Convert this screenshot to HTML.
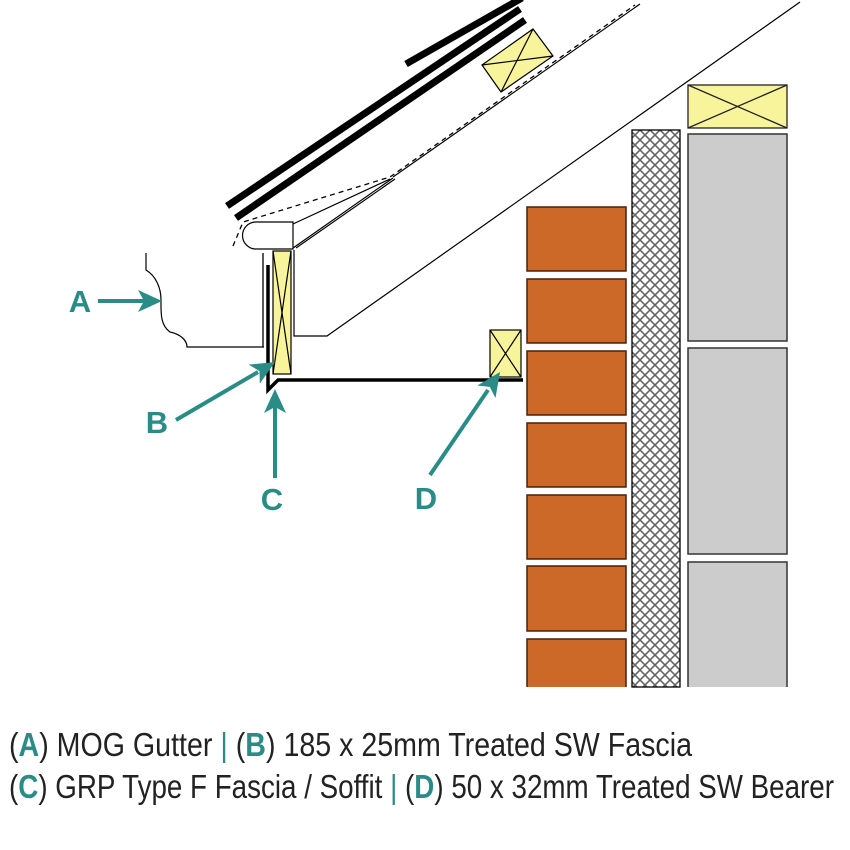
<!DOCTYPE html>
<html><head><meta charset="utf-8"><style>html,body{margin:0;padding:0;background:#fff}svg{display:block}</style></head>
<body>
<svg width="850" height="850" viewBox="0 0 850 850" xmlns="http://www.w3.org/2000/svg">
<defs>
<pattern id="hx" width="10" height="10" patternUnits="userSpaceOnUse">
<path d="M0 0L10 10M10 0L0 10" stroke="#666" stroke-width="1.6"/>
</pattern>
</defs>
<!-- tiles -->
<g stroke="#000" stroke-width="7" fill="none">
<line x1="227" y1="206" x2="520" y2="9"/>
<line x1="236" y1="218" x2="525" y2="20"/>
<line x1="406" y1="64" x2="522" y2="-2"/>
</g>
<!-- dashed membrane -->
<path d="M233 246L243 222L390 177L635 5" fill="none" stroke="#000" stroke-width="1.3" stroke-dasharray="5,4"/>
<!-- rafter -->
<g stroke="#000" stroke-width="1.2" fill="none">
<line x1="393" y1="177" x2="640" y2="4"/>
<path d="M293 224L390 179"/>
<line x1="293" y1="248" x2="393" y2="178"/>
<line x1="296" y1="248" x2="395" y2="179"/>
<path d="M294 250L294 336L327 336L800 2"/>
</g>
<!-- nosing -->
<path d="M256 222L293 222L293 249L256 249A13.5 13.5 0 0 1 256 222Z" fill="#fff" stroke="#000" stroke-width="1.2"/>
<!-- batten -->
<g stroke="#000" stroke-width="1.2">
<path d="M482 65L533 29L553 56L501 92Z" fill="#f8f49c"/>
<line x1="482" y1="65" x2="553" y2="56"/><line x1="533" y1="29" x2="501" y2="92"/>
</g>
<!-- gutter -->
<path d="M146 253L146 270C156 276 161 288 161 300C161 312 160 325 170 332C180 334 187 340 187 347L264 347" fill="none" stroke="#000" stroke-width="1.2"/>
<line x1="263" y1="253" x2="263" y2="347" stroke="#000" stroke-width="1.3"/>
<!-- fascia board -->
<g stroke="#000" stroke-width="1.2">
<rect x="273" y="251" width="18" height="123" fill="#f8f49c"/>
<line x1="273" y1="251" x2="291" y2="374"/><line x1="291" y1="251" x2="273" y2="374"/>
</g>
<!-- GRP fascia/soffit -->
<path d="M268 265L268 390L278 380L523 380" fill="none" stroke="#000" stroke-width="3.5"/>
<!-- bearer -->
<g stroke="#000" stroke-width="1.2">
<rect x="490" y="330" width="31" height="47" fill="#f8f49c"/>
<line x1="490" y1="330" x2="521" y2="377"/><line x1="521" y1="330" x2="490" y2="377"/>
</g>
<!-- bricks -->
<g fill="#cc6828" stroke="#4a200a" stroke-width="1.5">
<rect x="527" y="207" width="99" height="64"/>
<rect x="527" y="279" width="99" height="64"/>
<rect x="527" y="351" width="99" height="64"/>
<rect x="527" y="423" width="99" height="64"/>
<rect x="527" y="495" width="99" height="64"/>
<rect x="527" y="566" width="99" height="65"/>
<path d="M527 687L527 639L626 639L626 687"/>
</g>
<!-- insulation -->
<rect x="632" y="130" width="48" height="557" fill="url(#hx)" stroke="#000" stroke-width="1.3"/>
<!-- blocks -->
<g fill="#cccccc" stroke="#333" stroke-width="1.5">
<rect x="688" y="134" width="99" height="207"/>
<rect x="688" y="348" width="99" height="206"/>
<path d="M688 687L688 562L787 562L787 687"/>
</g>
<g stroke="#222" stroke-width="1.3">
<rect x="688" y="85" width="99" height="43" fill="#f8f49c"/>
<line x1="688" y1="128" x2="787" y2="85"/><line x1="688" y1="85" x2="787" y2="128"/>
</g>
<!-- arrows -->
<g stroke="#2a8c86" stroke-width="4" fill="none">
<line x1="98" y1="301" x2="145" y2="301"/>
<line x1="176" y1="420" x2="258" y2="372"/>
<line x1="275" y1="478" x2="275" y2="405"/>
<line x1="430" y1="475" x2="488" y2="390"/>
</g>
<g fill="#2a8c86">
<polygon points="162,301 138,290 144,301 138,312"/>
<polygon points="0,0 -24,-11 -18,0 -24,11" transform="translate(275,362) rotate(-30.3)"/>
<polygon points="0,0 -24,-11 -18,0 -24,11" transform="translate(275,389) rotate(-90)"/>
<polygon points="0,0 -24,-11 -18,0 -24,11" transform="translate(500,372) rotate(-55.5)"/>
</g>
<g font-family="Liberation Sans Narrow, Liberation Sans, sans-serif" font-weight="bold" font-size="31" fill="#2a8c86" text-anchor="middle">
<text x="80" y="312">A</text>
<text x="157" y="433">B</text>
<text x="272" y="510">C</text>
<text x="426" y="509">D</text>
</g>
<!-- legend -->
<g font-family="Liberation Sans Narrow, Liberation Sans, sans-serif" font-size="33" fill="#222">
<text x="9" y="756" textLength="683" lengthAdjust="spacingAndGlyphs">(<tspan fill="#2a8c86" font-weight="bold">A</tspan>) MOG Gutter  <tspan fill="#2a8c86">|</tspan> (<tspan fill="#2a8c86" font-weight="bold">B</tspan>) 185 x 25mm Treated SW Fascia</text>
<text x="9" y="798" textLength="825" lengthAdjust="spacingAndGlyphs">(<tspan fill="#2a8c86" font-weight="bold">C</tspan>) GRP Type F Fascia / Soffit <tspan fill="#2a8c86">|</tspan> (<tspan fill="#2a8c86" font-weight="bold">D</tspan>) 50 x 32mm Treated SW Bearer</text>
</g>
</svg>
</body></html>
